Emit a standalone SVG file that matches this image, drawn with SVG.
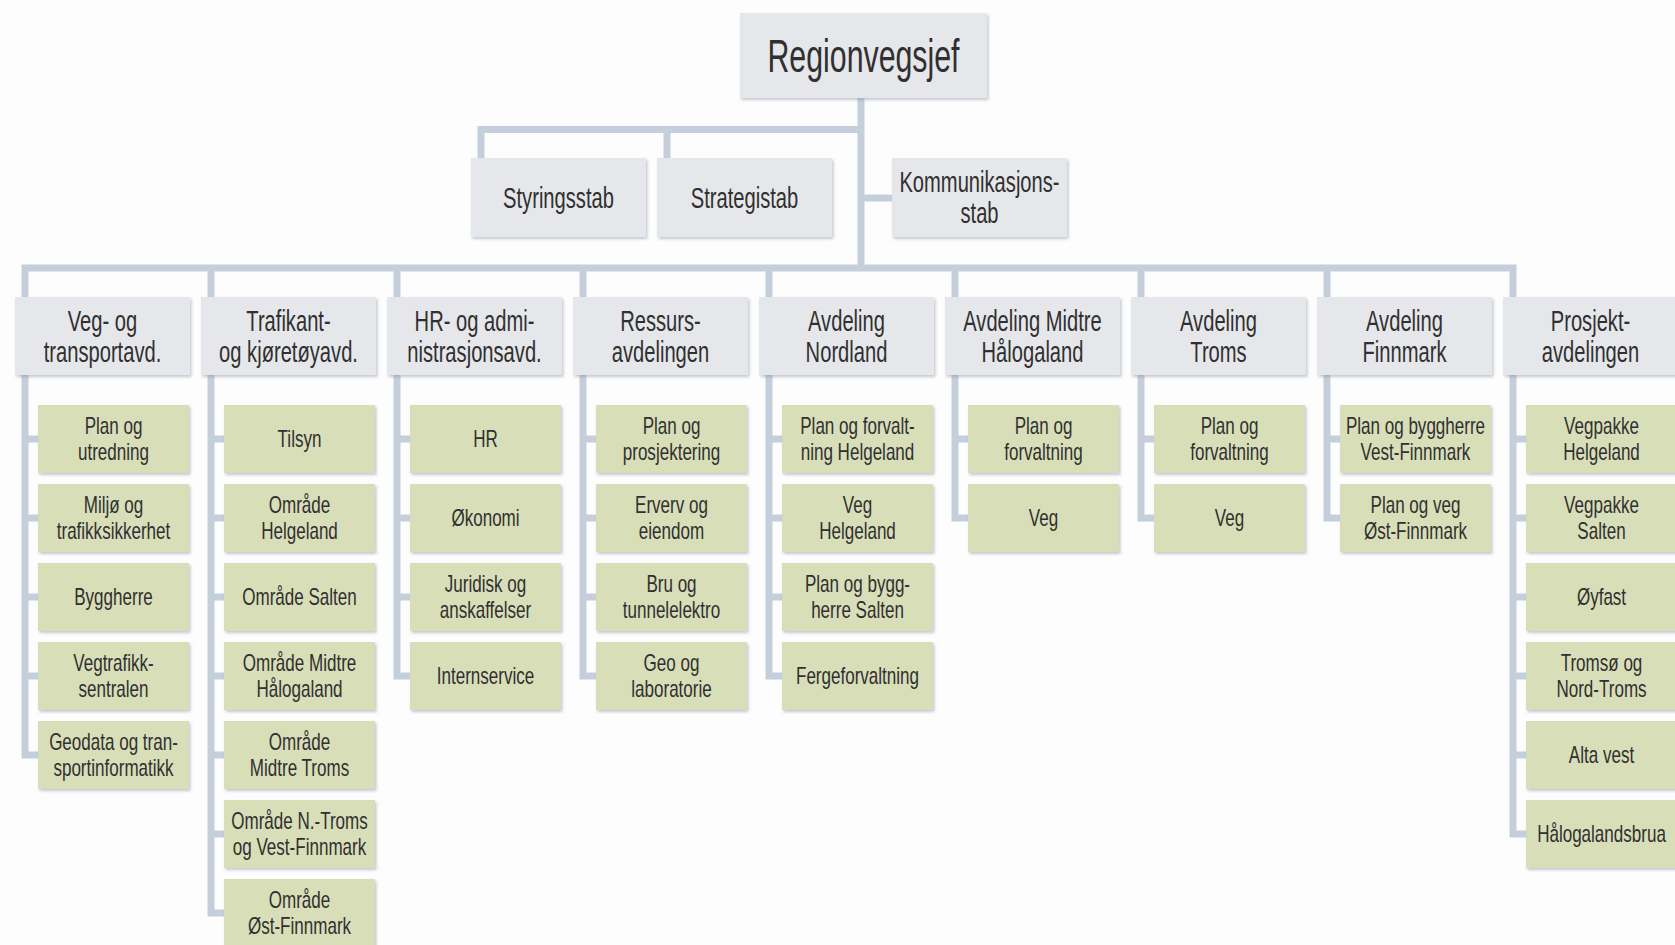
<svg xmlns="http://www.w3.org/2000/svg" width="1675" height="945" viewBox="0 0 1675 945">
<defs>
<filter id="sh" x="-10%" y="-10%" width="125%" height="130%">
<feDropShadow dx="1.5" dy="2" stdDeviation="1.5" flood-color="#7d8a99" flood-opacity="0.45"/>
</filter>
<style>
.bg{fill:#fdfdfd}
.con{fill:none;stroke:#c5cfdb;stroke-width:7;stroke-linejoin:miter;stroke-linecap:butt}
.gray{fill:#e6e7eb;filter:url(#sh)}
.green{fill:#d8deb8;filter:url(#sh)}
text{font-family:"Liberation Sans",Arial,sans-serif;fill:#303030;text-anchor:middle}
.t1{font-size:47px}
.t2{font-size:29px}
.t3{font-size:24px}
</style>
</defs>
<rect class="bg" x="0" y="0" width="1675" height="945"/>

<g id="connectors">
<path class="con" d="M861 98 V268"/>
<path class="con" d="M481 158 V129.5 H861"/>
<path class="con" d="M667 129.5 V158"/>
<path class="con" d="M861 198 H892"/>
<path class="con" d="M25 297 V268 H1513 V297"/>
<path class="con" d="M211 268 V297 M397 268 V297 M583 268 V297 M769 268 V297 M955 268 V297 M1141 268 V297 M1327 268 V297"/>
<path class="con" d="M25 375 V755 H38 M25 439 H38 M25 518 H38 M25 597 H38 M25 676 H38"/>
<path class="con" d="M211 375 V913 H224 M211 439 H224 M211 518 H224 M211 597 H224 M211 676 H224 M211 755 H224 M211 834 H224"/>
<path class="con" d="M397 375 V676 H410 M397 439 H410 M397 518 H410 M397 597 H410"/>
<path class="con" d="M583 375 V676 H596 M583 439 H596 M583 518 H596 M583 597 H596"/>
<path class="con" d="M769 375 V676 H782 M769 439 H782 M769 518 H782 M769 597 H782"/>
<path class="con" d="M955 375 V518 H968 M955 439 H968"/>
<path class="con" d="M1141 375 V518 H1154 M1141 439 H1154"/>
<path class="con" d="M1327 375 V518 H1340 M1327 439 H1340"/>
<path class="con" d="M1513 375 V834 H1526 M1513 439 H1526 M1513 518 H1526 M1513 597 H1526 M1513 676 H1526 M1513 755 H1526"/>
</g>

<g id="regionvegsjef">
<rect class="gray" x="740" y="13" width="247" height="85"/>
<text class="t1" transform="translate(863.5 0) scale(0.645 1)" x="0" y="72">Regionvegsjef</text>
</g>

<g id="styringsstab">
<rect class="gray" x="471" y="158" width="175" height="79"/>
<text class="t2" transform="translate(558.5 0) scale(0.695 1)" x="0" y="208">Styringsstab</text>
</g>
<g id="strategistab">
<rect class="gray" x="657" y="158" width="175" height="79"/>
<text class="t2" transform="translate(744.5 0) scale(0.695 1)" x="0" y="208">Strategistab</text>
</g>
<g id="kommunikasjonsstab">
<rect class="gray" x="892" y="158" width="175" height="79"/>
<text class="t2" transform="translate(979.5 0) scale(0.695 1)"><tspan x="0" y="192.5">Kommunikasjons-</tspan><tspan x="0" y="223.5">stab</tspan></text>
</g>

<g id="dept-veg">
<rect class="gray" x="15" y="297" width="175" height="78"/>
<text class="t2" transform="translate(102.5 0) scale(0.695 1)"><tspan x="0" y="331">Veg- og</tspan><tspan x="0" y="362">transportavd.</tspan></text>
</g>
<g id="dept-trafikant">
<rect class="gray" x="201" y="297" width="175" height="78"/>
<text class="t2" transform="translate(288.5 0) scale(0.695 1)"><tspan x="0" y="331">Trafikant-</tspan><tspan x="0" y="362">og kjøretøyavd.</tspan></text>
</g>
<g id="dept-hr">
<rect class="gray" x="387" y="297" width="175" height="78"/>
<text class="t2" transform="translate(474.5 0) scale(0.695 1)"><tspan x="0" y="331">HR- og admi-</tspan><tspan x="0" y="362">nistrasjonsavd.</tspan></text>
</g>
<g id="dept-ressurs">
<rect class="gray" x="573" y="297" width="175" height="78"/>
<text class="t2" transform="translate(660.5 0) scale(0.695 1)"><tspan x="0" y="331">Ressurs-</tspan><tspan x="0" y="362">avdelingen</tspan></text>
</g>
<g id="dept-nordland">
<rect class="gray" x="759" y="297" width="175" height="78"/>
<text class="t2" transform="translate(846.5 0) scale(0.695 1)"><tspan x="0" y="331">Avdeling</tspan><tspan x="0" y="362">Nordland</tspan></text>
</g>
<g id="dept-midtre">
<rect class="gray" x="945" y="297" width="175" height="78"/>
<text class="t2" transform="translate(1032.5 0) scale(0.695 1)"><tspan x="0" y="331">Avdeling Midtre</tspan><tspan x="0" y="362">Hålogaland</tspan></text>
</g>
<g id="dept-troms">
<rect class="gray" x="1131" y="297" width="175" height="78"/>
<text class="t2" transform="translate(1218.5 0) scale(0.695 1)"><tspan x="0" y="331">Avdeling</tspan><tspan x="0" y="362">Troms</tspan></text>
</g>
<g id="dept-finnmark">
<rect class="gray" x="1317" y="297" width="175" height="78"/>
<text class="t2" transform="translate(1404.5 0) scale(0.695 1)"><tspan x="0" y="331">Avdeling</tspan><tspan x="0" y="362">Finnmark</tspan></text>
</g>
<g id="dept-prosjekt">
<rect class="gray" x="1503" y="297" width="175" height="78"/>
<text class="t2" transform="translate(1590.5 0) scale(0.695 1)"><tspan x="0" y="331">Prosjekt-</tspan><tspan x="0" y="362">avdelingen</tspan></text>
</g>

<g id="c0-1"><rect class="green" x="38" y="405" width="151" height="68"/>
<text class="t3" transform="translate(113.5 0) scale(0.71 1)"><tspan x="0" y="434.5">Plan og</tspan><tspan x="0" y="460.5">utredning</tspan></text></g>
<g id="c0-2"><rect class="green" x="38" y="484" width="151" height="68"/>
<text class="t3" transform="translate(113.5 0) scale(0.71 1)"><tspan x="0" y="513.5">Miljø og</tspan><tspan x="0" y="539.5">trafikksikkerhet</tspan></text></g>
<g id="c0-3"><rect class="green" x="38" y="563" width="151" height="68"/>
<text class="t3" transform="translate(113.5 0) scale(0.71 1)" x="0" y="605.5">Byggherre</text></g>
<g id="c0-4"><rect class="green" x="38" y="642" width="151" height="68"/>
<text class="t3" transform="translate(113.5 0) scale(0.71 1)"><tspan x="0" y="671.5">Vegtrafikk-</tspan><tspan x="0" y="697.5">sentralen</tspan></text></g>
<g id="c0-5"><rect class="green" x="38" y="721" width="151" height="68"/>
<text class="t3" transform="translate(113.5 0) scale(0.71 1)"><tspan x="0" y="750.5">Geodata og tran-</tspan><tspan x="0" y="776.5">sportinformatikk</tspan></text></g>

<g id="c1-1"><rect class="green" x="224" y="405" width="151" height="68"/>
<text class="t3" transform="translate(299.5 0) scale(0.71 1)" x="0" y="447.5">Tilsyn</text></g>
<g id="c1-2"><rect class="green" x="224" y="484" width="151" height="68"/>
<text class="t3" transform="translate(299.5 0) scale(0.71 1)"><tspan x="0" y="513.5">Område</tspan><tspan x="0" y="539.5">Helgeland</tspan></text></g>
<g id="c1-3"><rect class="green" x="224" y="563" width="151" height="68"/>
<text class="t3" transform="translate(299.5 0) scale(0.71 1)" x="0" y="605.5">Område Salten</text></g>
<g id="c1-4"><rect class="green" x="224" y="642" width="151" height="68"/>
<text class="t3" transform="translate(299.5 0) scale(0.71 1)"><tspan x="0" y="671.5">Område Midtre</tspan><tspan x="0" y="697.5">Hålogaland</tspan></text></g>
<g id="c1-5"><rect class="green" x="224" y="721" width="151" height="68"/>
<text class="t3" transform="translate(299.5 0) scale(0.71 1)"><tspan x="0" y="750.5">Område</tspan><tspan x="0" y="776.5">Midtre Troms</tspan></text></g>
<g id="c1-6"><rect class="green" x="224" y="800" width="151" height="68"/>
<text class="t3" transform="translate(299.5 0) scale(0.71 1)"><tspan x="0" y="829.5">Område N.-Troms</tspan><tspan x="0" y="855.5">og Vest-Finnmark</tspan></text></g>
<g id="c1-7"><rect class="green" x="224" y="879" width="151" height="68"/>
<text class="t3" transform="translate(299.5 0) scale(0.71 1)"><tspan x="0" y="908.5">Område</tspan><tspan x="0" y="934.5">Øst-Finnmark</tspan></text></g>

<g id="c2-1"><rect class="green" x="410" y="405" width="151" height="68"/>
<text class="t3" transform="translate(485.5 0) scale(0.71 1)" x="0" y="447.5">HR</text></g>
<g id="c2-2"><rect class="green" x="410" y="484" width="151" height="68"/>
<text class="t3" transform="translate(485.5 0) scale(0.71 1)" x="0" y="526.5">Økonomi</text></g>
<g id="c2-3"><rect class="green" x="410" y="563" width="151" height="68"/>
<text class="t3" transform="translate(485.5 0) scale(0.71 1)"><tspan x="0" y="592.5">Juridisk og</tspan><tspan x="0" y="618.5">anskaffelser</tspan></text></g>
<g id="c2-4"><rect class="green" x="410" y="642" width="151" height="68"/>
<text class="t3" transform="translate(485.5 0) scale(0.71 1)" x="0" y="684.5">Internservice</text></g>

<g id="c3-1"><rect class="green" x="596" y="405" width="151" height="68"/>
<text class="t3" transform="translate(671.5 0) scale(0.71 1)"><tspan x="0" y="434.5">Plan og</tspan><tspan x="0" y="460.5">prosjektering</tspan></text></g>
<g id="c3-2"><rect class="green" x="596" y="484" width="151" height="68"/>
<text class="t3" transform="translate(671.5 0) scale(0.71 1)"><tspan x="0" y="513.5">Erverv og</tspan><tspan x="0" y="539.5">eiendom</tspan></text></g>
<g id="c3-3"><rect class="green" x="596" y="563" width="151" height="68"/>
<text class="t3" transform="translate(671.5 0) scale(0.71 1)"><tspan x="0" y="592.5">Bru og</tspan><tspan x="0" y="618.5">tunnelelektro</tspan></text></g>
<g id="c3-4"><rect class="green" x="596" y="642" width="151" height="68"/>
<text class="t3" transform="translate(671.5 0) scale(0.71 1)"><tspan x="0" y="671.5">Geo og</tspan><tspan x="0" y="697.5">laboratorie</tspan></text></g>

<g id="c4-1"><rect class="green" x="782" y="405" width="151" height="68"/>
<text class="t3" transform="translate(857.5 0) scale(0.71 1)"><tspan x="0" y="434.5">Plan og forvalt-</tspan><tspan x="0" y="460.5">ning Helgeland</tspan></text></g>
<g id="c4-2"><rect class="green" x="782" y="484" width="151" height="68"/>
<text class="t3" transform="translate(857.5 0) scale(0.71 1)"><tspan x="0" y="513.5">Veg</tspan><tspan x="0" y="539.5">Helgeland</tspan></text></g>
<g id="c4-3"><rect class="green" x="782" y="563" width="151" height="68"/>
<text class="t3" transform="translate(857.5 0) scale(0.71 1)"><tspan x="0" y="592.5">Plan og bygg-</tspan><tspan x="0" y="618.5">herre Salten</tspan></text></g>
<g id="c4-4"><rect class="green" x="782" y="642" width="151" height="68"/>
<text class="t3" transform="translate(857.5 0) scale(0.71 1)" x="0" y="684.5">Fergeforvaltning</text></g>

<g id="c5-1"><rect class="green" x="968" y="405" width="151" height="68"/>
<text class="t3" transform="translate(1043.5 0) scale(0.71 1)"><tspan x="0" y="434.5">Plan og</tspan><tspan x="0" y="460.5">forvaltning</tspan></text></g>
<g id="c5-2"><rect class="green" x="968" y="484" width="151" height="68"/>
<text class="t3" transform="translate(1043.5 0) scale(0.71 1)" x="0" y="526.5">Veg</text></g>

<g id="c6-1"><rect class="green" x="1154" y="405" width="151" height="68"/>
<text class="t3" transform="translate(1229.5 0) scale(0.71 1)"><tspan x="0" y="434.5">Plan og</tspan><tspan x="0" y="460.5">forvaltning</tspan></text></g>
<g id="c6-2"><rect class="green" x="1154" y="484" width="151" height="68"/>
<text class="t3" transform="translate(1229.5 0) scale(0.71 1)" x="0" y="526.5">Veg</text></g>

<g id="c7-1"><rect class="green" x="1340" y="405" width="151" height="68"/>
<text class="t3" transform="translate(1415.5 0) scale(0.71 1)"><tspan x="0" y="434.5">Plan og byggherre</tspan><tspan x="0" y="460.5">Vest-Finnmark</tspan></text></g>
<g id="c7-2"><rect class="green" x="1340" y="484" width="151" height="68"/>
<text class="t3" transform="translate(1415.5 0) scale(0.71 1)"><tspan x="0" y="513.5">Plan og veg</tspan><tspan x="0" y="539.5">Øst-Finnmark</tspan></text></g>

<g id="c8-1"><rect class="green" x="1526" y="405" width="151" height="68"/>
<text class="t3" transform="translate(1601.5 0) scale(0.71 1)"><tspan x="0" y="434.5">Vegpakke</tspan><tspan x="0" y="460.5">Helgeland</tspan></text></g>
<g id="c8-2"><rect class="green" x="1526" y="484" width="151" height="68"/>
<text class="t3" transform="translate(1601.5 0) scale(0.71 1)"><tspan x="0" y="513.5">Vegpakke</tspan><tspan x="0" y="539.5">Salten</tspan></text></g>
<g id="c8-3"><rect class="green" x="1526" y="563" width="151" height="68"/>
<text class="t3" transform="translate(1601.5 0) scale(0.71 1)" x="0" y="605.5">Øyfast</text></g>
<g id="c8-4"><rect class="green" x="1526" y="642" width="151" height="68"/>
<text class="t3" transform="translate(1601.5 0) scale(0.71 1)"><tspan x="0" y="671.5">Tromsø og</tspan><tspan x="0" y="697.5">Nord-Troms</tspan></text></g>
<g id="c8-5"><rect class="green" x="1526" y="721" width="151" height="68"/>
<text class="t3" transform="translate(1601.5 0) scale(0.71 1)" x="0" y="763.5">Alta vest</text></g>
<g id="c8-6"><rect class="green" x="1526" y="800" width="151" height="68"/>
<text class="t3" transform="translate(1601.5 0) scale(0.71 1)" x="0" y="842.5">Hålogalandsbrua</text></g>
</svg>
